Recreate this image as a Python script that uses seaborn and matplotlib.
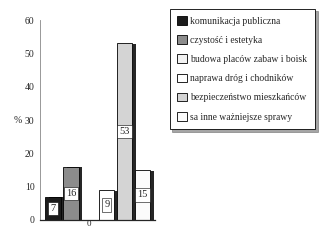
import matplotlib
matplotlib.use("Agg")
import matplotlib.pyplot as plt
import matplotlib.patheffects as pe
import seaborn as sns

# dane
kategorie = ["komunikacja publiczna", "czystość i estetyka", "budowa placów zabaw i boisk",
             "naprawa dróg i chodników", "bezpieczeństwo mieszkańców", "sa inne ważniejsze sprawy"]
wartosci = [7, 16, 0, 9, 53, 15]
kolory = ["#1c1c1c", "#8c8c8c", "#f2f2f2", "#ffffff", "#d4d4d4", "#fbfbfb"]

sns.set_style("white")
plt.rcParams["font.family"] = ["Liberation Serif", "DejaVu Serif"]

fig = plt.figure(figsize=(3.2, 2.48), dpi=100)
ax = fig.add_axes([0.125, 0.113, 0.36, 0.806])

sns.barplot(x=kategorie, y=wartosci, hue=kategorie, palette=kolory, order=kategorie,
            hue_order=kategorie, edgecolor="black", linewidth=0.6, width=0.86,
            legend=True, ax=ax)

# cien z prawej strony jak w 3D
for p in ax.patches:
    p.set_path_effects([pe.SimplePatchShadow(offset=(2.5, -0.5), shadow_rgbFace="black", alpha=0.85),
                        pe.Normal()])

for c, v in zip(ax.containers, wartosci):
    if v > 0:
        ax.bar_label(c, label_type="center", fontsize=7.5,
                     bbox=dict(boxstyle="square,pad=0.2", fc="white", ec="black", lw=0.4))
    else:
        ax.bar_label(c, padding=-6, fontsize=6.5)

ax.set_xlim(-0.72, 5.7)
ax.set_ylim(0, 60)
ax.set_yticks(range(0, 61, 10))
ax.set_xticks([])
ax.tick_params(axis="y", labelsize=7, length=2, pad=2)
ax.set_ylabel("%", rotation=0, fontsize=7, labelpad=5, va="center")
sns.despine(ax=ax)
ax.spines["left"].set_color("#888888")
ax.spines["left"].set_linewidth(0.6)
ax.spines["bottom"].set_linewidth(0.9)

sns.move_legend(ax, loc="upper left", bbox_to_anchor=(0.515, 0.985), bbox_transform=fig.transFigure,
                title=None, fontsize=6.9, frameon=True, fancybox=False, shadow=True,
                handlelength=1.0, handleheight=1.0, labelspacing=1.0, borderpad=0.8,
                handletextpad=0.35, edgecolor="black")
leg = ax.get_legend()
leg.get_frame().set_linewidth(0.6)

fig.savefig("out.png", dpi=100)
